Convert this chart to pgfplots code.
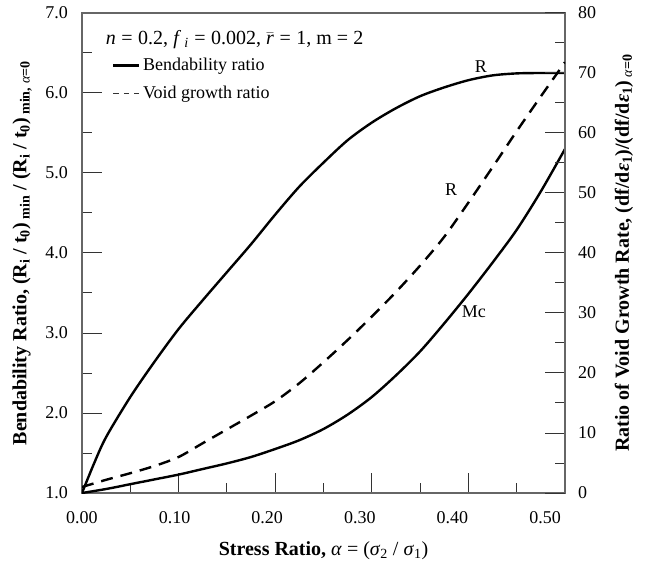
\documentclass[border=0pt]{standalone}
\usepackage{fontspec}
\setmainfont{Liberation Serif}
\usepackage{pgfplots}
\pgfplotsset{compat=1.18}

\pgfplotstableread{
x y
0 1.0
0.0125 1.37
0.025 1.70
0.05 2.20
0.075 2.64
0.1 3.05
0.125 3.41
0.15 3.76
0.175 4.11
0.2 4.48
0.225 4.83
0.25 5.13
0.275 5.41
0.3 5.63
0.325 5.81
0.35 5.96
0.375 6.07
0.4 6.16
0.425 6.22
0.45 6.245
0.475 6.25
0.5 6.25
}\bendR

\pgfplotstableread{
x y
0 1.0
0.025 1.05
0.05 1.11
0.075 1.17
0.1 1.23
0.125 1.30
0.15 1.37
0.175 1.45
0.2 1.55
0.225 1.66
0.25 1.80
0.275 1.98
0.3 2.20
0.325 2.47
0.35 2.77
0.375 3.12
0.4 3.49
0.425 3.88
0.45 4.29
0.475 4.77
0.5 5.30
}\bendMc

\pgfplotstableread{
x y
0 1.0
0.025 2.2
0.05 3.3
0.075 4.5
0.1 6.0
0.125 8.3
0.15 10.6
0.175 12.9
0.2 15.3
0.225 18.3
0.25 21.8
0.275 25.5
0.3 29.4
0.325 33.5
0.35 37.9
0.375 42.7
0.4 48.4
0.425 54.3
0.45 60.3
0.475 66.1
0.5 71.8
}\voidR

\begin{document}
\fontsize{18bp}{21bp}\selectfont
\begin{tikzpicture}
\pgfplotsset{
  common/.style={
    scale only axis, width=483bp, height=480bp,
    xmin=0, xmax=0.5,
    tick align=inside,
    major tick length=20bp, minor tick length=10bp,
    tick style={black!80, line width=1bp},
    axis line style={black!60, line width=1.2bp},
    /pgf/number format/assume math mode=true,
    ticklabel style={font=\fontsize{18bp}{21bp}\selectfont},
    label style={font=\fontsize{20bp}{23bp}\selectfont},
  }
}
\begin{axis}[common,
  ymin=1, ymax=7,
  xtick={0.1,0.2,0.3,0.4}, minor xtick={0.05,0.15,...,0.45},
  xticklabels={},
  extra x ticks={0,0.09586,0.19172,0.28758,0.38344,0.4793},
  extra x tick labels={0.00,0.10,0.20,0.30,0.40,0.50},
  extra x tick style={major tick length=0pt, xticklabel style={yshift=-12bp}},
  ytick={1,2,...,7}, minor ytick={1.5,2.5,...,6.5},
  xtick pos=bottom, ytick pos=left,
  yticklabel style={xshift=-8bp, /pgf/number format/.cd, fixed, fixed zerofill, precision=1},
  xlabel={\textbf{Stress Ratio,} \textit{α} = (\textit{σ}\textsubscript{2} / \textit{σ}\textsubscript{1})},
  xlabel style={at={(axis description cs:0.5,-0.121)}, anchor=center},
  ylabel={\textbf{Bendability Ratio, (R\textsubscript{i} / t\textsubscript{0})\textsubscript{ min} / (R\textsubscript{i} / t\textsubscript{0})\textsubscript{ min, }}\textsubscript{\textit{α}\textbf{=0}}},
  ylabel style={at={(axis description cs:-0.124,0.5)}, anchor=center},
  legend style={draw=none, fill=none, at={(axis description cs:0.062,0.912)}, anchor=north west,
    font=\fontsize{18bp}{21bp}\selectfont, row sep=8bp, inner sep=0pt,
    nodes={inner sep=2.5bp}},
  legend cell align=left,
  legend image code/.code={\draw[#1] (0bp,0bp) -- (26bp,0bp);},
]
\coordinate (ll) at (rel axis cs:0,0);
\coordinate (ur) at (rel axis cs:1,1);
\addplot[black, line width=2.4bp, smooth] table {\bendR};
\addlegendentry{Bendability ratio}
\addplot[black, line width=2.4bp, smooth, forget plot] table {\bendMc};
\addlegendimage{black!80, line width=1bp, dash pattern=on 5.5bp off 5bp}
\addlegendentry{Void growth ratio}
\node[anchor=west, inner sep=0pt] at (axis description cs:0.049,0.944) {\fontsize{20bp}{23bp}\selectfont\textit{n}\;=\;0.2, \textit{f}\,\textsubscript{\textit{i}}\;=\;0.002, $\bar{\mbox{\textit{r}}}$\;=\;1, m = 2};
\node at (axis cs:0.413,6.33) {R};
\node at (axis cs:0.382,4.79) {R};
\node[anchor=west, inner sep=0pt] at (axis cs:0.393,3.27) {Mc};
\end{axis}
\begin{axis}[common,
  ymin=0, ymax=80,
  axis x line=none, axis y line*=right,
  ytick={0,10,...,80}, minor ytick={5,15,...,75},
  yticklabel style={xshift=7bp},
  ylabel={\textbf{Ratio of Void Growth Rate, (df/d\textit{ε}\textsubscript{1})/(df/d\textit{ε}\textsubscript{1})}\textsubscript{ \textit{α}\textbf{=0}}},
  ylabel style={at={(axis description cs:1.122,0.5)}, anchor=center, rotate=0},
]
\addplot[black, line width=2.4bp, dash pattern=on 12bp off 8bp, smooth] table {\voidR};
\end{axis}
\pgfresetboundingbox
\path ([shift={(-82bp,-81bp)}]ll) rectangle ([shift={(84bp,13bp)}]ur);
\end{tikzpicture}
\end{document}
